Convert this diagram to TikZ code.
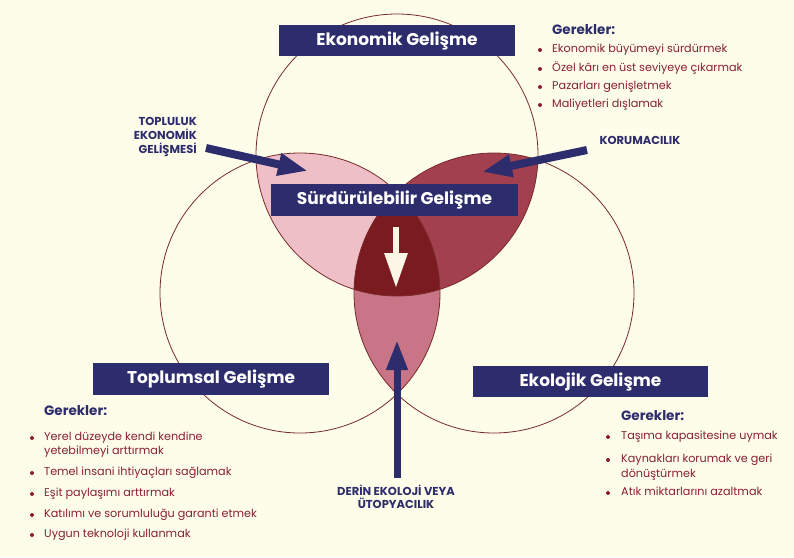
\documentclass[tikz,border=0pt]{standalone}
\usepackage{fontspec}
\setmainfont{Poppins}
\usetikzlibrary{arrows.meta}
\definecolor{bg}{HTML}{FDFDEA}
\definecolor{navy}{HTML}{2D2C6C}
\definecolor{ring}{HTML}{7A2A2A}
\definecolor{pinkL}{HTML}{EFBFC8}
\definecolor{pinkR}{HTML}{A3404F}
\definecolor{pinkB}{HTML}{C87687}
\definecolor{core}{HTML}{7A1B20}
\definecolor{itemc}{HTML}{8A1F33}
\definecolor{cream}{HTML}{FBF6E6}
\begin{document}
\begin{tikzpicture}[x=1pt,y=-1pt,
  titlebox/.style={fill=navy, text=white, font=\bfseries\fontsize{17}{20}\selectfont, inner sep=0pt, minimum height=31pt},
  blockarrow/.style={draw=navy, line width=8pt, -{Triangle[width=21pt,length=30pt]}, fill=navy},
  whitearrow/.style={draw=cream, line width=6pt, -{Triangle[width=22pt,length=35pt]}, fill=cream},
  biglabel/.style={text=navy, font=\bfseries\fontsize{11.5}{14}\selectfont, inner sep=0pt},
  gerek/.style={text=navy, font=\bfseries\fontsize{13.5}{16}\selectfont, anchor=mid west, inner sep=0pt},
  itemtext/.style={text=itemc, font=\fontsize{11.2}{14}\selectfont, anchor=mid west, inner sep=0pt},
  bul/.style={circle, fill=itemc, inner sep=0pt, minimum size=4pt},
  ringline/.style={draw=ring, line width=0.8pt}
]
\useasboundingbox (0,0) rectangle (794,557);
\fill[bg] (0,0) rectangle (794,557);

% petals
\begin{scope}
  \clip (397,155) circle (141);
  \fill[pinkL] (300,293) circle (140);
  \fill[pinkR] (494,293) circle (140);
\end{scope}
\begin{scope}
  \clip (300,293) circle (140);
  \fill[pinkB] (494,293) circle (140);
\end{scope}
\begin{scope}
  \clip (397,155) circle (141);
  \clip (300,293) circle (140);
  \fill[core] (494,293) circle (140);
\end{scope}
% circle outlines
\draw[ringline] (397,155) circle (141);
\draw[ringline] (300,293) circle (140);
\draw[ringline] (494,293) circle (140);

% title boxes
\node[titlebox, minimum width=236pt] (eko) at (397,40.5) {Ekonomik Gelişme};
\node[titlebox, minimum width=247pt, minimum height=32pt] (sur) at (394.5,200) {Sürdürülebilir Gelişme};
\node[titlebox, minimum width=236pt, minimum height=32pt] (top) at (211,379) {Toplumsal Gelişme};
\node[titlebox, minimum width=235pt] (ekol) at (590.5,381.5) {Ekolojik Gelişme};

% arrow labels
\node[biglabel, align=right, anchor=east] (tlab) at (197,137) {TOPLULUK\\EKONOMİK\\GELİŞMESİ};
\node[biglabel] (klab) at (640,140) {KORUMACILIK};
\node[biglabel, align=center, font=\bfseries\fontsize{11.5}{13}\selectfont] (dlab) at (396,497) {DERİN EKOLOJİ VEYA\\ÜTOPYACILIK};

% arrows
\coordinate (ta) at (206,148);
\coordinate (tb) at (308,171);
\coordinate (ka) at (587,150);
\coordinate (kb) at (482,172);
\coordinate (wa) at (396,227);
\coordinate (wb) at (396,288);
\coordinate (da) at (397,478);
\coordinate (db) at (397,340);
\draw[blockarrow] (ta) -- (tb);
\draw[blockarrow] (ka) -- (kb);
\draw[whitearrow] (wa) -- (wb);
\draw[blockarrow, -{Triangle[width=20pt,length=30pt]}, line width=7pt] (da) -- (db);

% top right list
\node[gerek] (g1) at (552,32) {Gerekler:};
\node[bul] (b11) at (540,50) {};
\node[itemtext] (i11) at (552,50) {Ekonomik büyümeyi sürdürmek};
\node[bul] (b12) at (540,69) {};
\node[itemtext] (i12) at (552,69) {Özel kârı en üst seviyeye çıkarmak};
\node[bul] (b13) at (540,87) {};
\node[itemtext] (i13) at (552,87) {Pazarları genişletmek};
\node[bul] (b14) at (540,105) {};
\node[itemtext] (i14) at (552,105) {Maliyetleri dışlamak};

% bottom left list
\node[gerek] (g2) at (44,413) {Gerekler:};
\node[bul] (b21) at (32,438) {};
\node[itemtext] (i21) at (44,438) {Yerel düzeyde kendi kendine};
\node[itemtext] (i21b) at (44,452) {yetebilmeyi arttırmak};
\node[bul] (b22) at (32,473) {};
\node[itemtext] (i22) at (44,473) {Temel insani ihtiyaçları sağlamak};
\node[bul] (b23) at (32,494) {};
\node[itemtext] (i23) at (44,494) {Eşit paylaşımı arttırmak};
\node[bul] (b24) at (32,515) {};
\node[itemtext] (i24) at (44,515) {Katılımı ve sorumluluğu garanti etmek};
\node[bul] (b25) at (32,535) {};
\node[itemtext] (i25) at (44,535) {Uygun teknoloji kullanmak};

% bottom right list
\node[gerek] (g3) at (621,418) {Gerekler:};
\node[bul] (b31) at (608,437) {};
\node[itemtext] (i31) at (621,437) {Taşıma kapasitesine uymak};
\node[bul] (b32) at (608,460) {};
\node[itemtext] (i32) at (621,460) {Kaynakları korumak ve geri};
\node[itemtext] (i32b) at (621,475) {dönüştürmek};
\node[bul] (b33) at (608,493) {};
\node[itemtext] (i33) at (621,493) {Atık miktarlarını azaltmak};
\end{tikzpicture}
\end{document}
